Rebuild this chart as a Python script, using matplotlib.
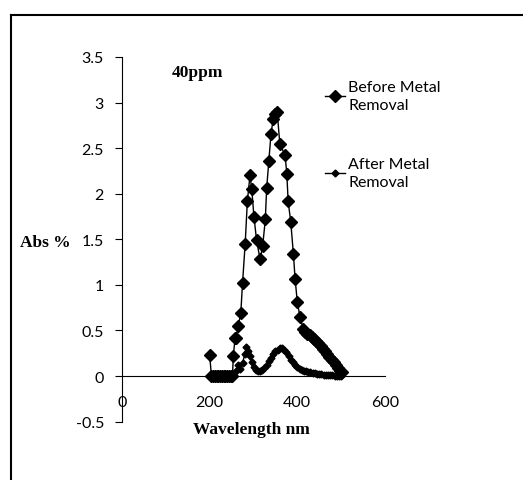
import matplotlib
matplotlib.use("Agg")
import matplotlib.pyplot as plt
from matplotlib.lines import Line2D

# before metal removal (big diamonds)
wl_before = [200, 204, 208, 212, 216, 220, 224, 228, 232, 236, 240, 244, 248, 252,
             254, 258, 260, 265, 271, 275, 281, 286, 292, 296, 301, 307, 315, 321,
             327, 330, 335, 340, 345, 350, 354, 360, 372, 376, 379, 385, 391, 395,
             400, 406, 413, 418, 423, 428, 433, 438, 443, 448, 453, 458, 463, 468,
             473, 478, 483, 488, 493, 498, 502]
abs_before = [0.23, 0.0, 0.0, 0.0, 0.0, 0.0, 0.0, 0.0, 0.0, 0.0, 0.0, 0.0, 0.0, 0.0,
              0.22, 0.42, 0.42, 0.55, 0.69, 1.02, 1.45, 1.92, 2.20, 2.05, 1.75, 1.49,
              1.28, 1.43, 1.72, 2.06, 2.36, 2.66, 2.82, 2.88, 2.90, 2.55, 2.42, 2.22,
              1.92, 1.69, 1.34, 1.06, 0.81, 0.65, 0.52, 0.48, 0.46, 0.45, 0.43, 0.41,
              0.38, 0.36, 0.33, 0.30, 0.27, 0.24, 0.21, 0.18, 0.15, 0.12, 0.09, 0.06,
              0.04]

# after metal removal (small diamonds, dense)
wl_after = [200, 205, 210, 215, 220, 225, 230, 235, 240, 245, 250, 255, 260, 265,
            270, 275, 280, 284, 288, 292, 296, 300, 305, 310, 315, 320, 325, 330,
            335, 340, 345, 350, 355, 360, 365, 370, 375, 380, 385, 390, 395, 400,
            405, 410, 415, 420, 425, 430, 435, 440, 445, 450, 455, 460, 465, 470,
            475, 480, 485, 490, 495, 500]
abs_after = [0.0, 0.0, 0.0, 0.0, 0.0, 0.0, 0.0, 0.0, 0.0, 0.0, 0.0, 0.0, 0.05, 0.12,
             0.08, 0.14, 0.24, 0.32, 0.28, 0.22, 0.15, 0.10, 0.07, 0.06, 0.06, 0.07,
             0.09, 0.12, 0.16, 0.20, 0.24, 0.27, 0.29, 0.31, 0.31, 0.29, 0.26, 0.22,
             0.18, 0.15, 0.12, 0.10, 0.08, 0.07, 0.06, 0.05, 0.04, 0.04, 0.03, 0.03,
             0.02, 0.02, 0.02, 0.01, 0.01, 0.01, 0.01, 0.01, 0.0, 0.0, 0.0, 0.0]

x_ticks = [0, 200, 400, 600]
y_ticks = [-0.5, 0, 0.5, 1, 1.5, 2, 2.5, 3, 3.5]
y_labels = ["-0.5", "0", "0.5", "1", "1.5", "2", "2.5", "3", "3.5"]

W, H = 523, 481
fig = plt.figure(figsize=(W / 100, H / 100), dpi=100)
ax = fig.add_axes([122 / W, 1 - 422.6 / H, 263 / W, (422.6 - 58) / H])

ax.plot(wl_before, abs_before, color="black", lw=1.0, marker="D", ms=6.5,
        mfc="black", mec="black")
ax.plot(wl_after, abs_after, color="black", lw=1.0, marker="D", ms=3.5,
        mfc="black", mec="black")

ax.set_xlim(0, 600)
ax.set_ylim(-0.5, 3.5)
ax.spines["top"].set_visible(False)
ax.spines["right"].set_visible(False)
ax.spines["bottom"].set_position(("data", 0))
ax.spines["left"].set_position(("data", 0))
for s in ("bottom", "left"):
    ax.spines[s].set_linewidth(0.8)

tick_font = {"family": "Lato", "size": 11.5}
ax.set_xticks(x_ticks)
ax.set_xticklabels([str(t) for t in x_ticks], fontdict=tick_font)
ax.set_yticks(y_ticks)
ax.set_yticklabels(y_labels, fontdict=tick_font)
ax.tick_params(axis="x", length=0, pad=14)
ax.tick_params(axis="y", direction="out", length=5, width=0.8, pad=8)

serif_bold = {"family": "Liberation Serif", "weight": "bold", "size": 12.5}
fig.text(45 / W, 1 - 243 / H, "Abs %", ha="center", va="center", fontdict=serif_bold)
fig.text(251 / W, 1 - 430 / H, "Wavelength nm", ha="center", va="center",
         fontdict=serif_bold)
fig.text(198 / W, 1 - 73 / H, "40ppm", ha="center", va="center", fontdict=serif_bold)

# legend drawn by hand to match the layout
leg_font = {"family": "Lato", "size": 11.5}
for yp, ms, label in [(97, 6.5, "Before Metal\nRemoval"), (174, 3.5, "After Metal\nRemoval")]:
    fig.add_artist(Line2D([325 / W, 345 / W], [1 - yp / H, 1 - yp / H], color="black",
                          lw=1.0, transform=fig.transFigure))
    fig.add_artist(Line2D([335 / W], [1 - yp / H], color="black", marker="D", ms=ms,
                          transform=fig.transFigure))
    fig.text(348 / W, 1 - yp / H, label, ha="left", va="center", fontdict=leg_font,
             linespacing=1.3)

# chart frame (cropped at right and bottom)
fig.add_artist(Line2D([11 / W, 1.0], [1 - 16 / H, 1 - 16 / H], color="black", lw=1.5,
                      transform=fig.transFigure))
fig.add_artist(Line2D([11 / W, 11 / W], [0.0, 1 - 16 / H], color="black", lw=1.5,
                      transform=fig.transFigure))

fig.savefig("out.png", dpi=100)
